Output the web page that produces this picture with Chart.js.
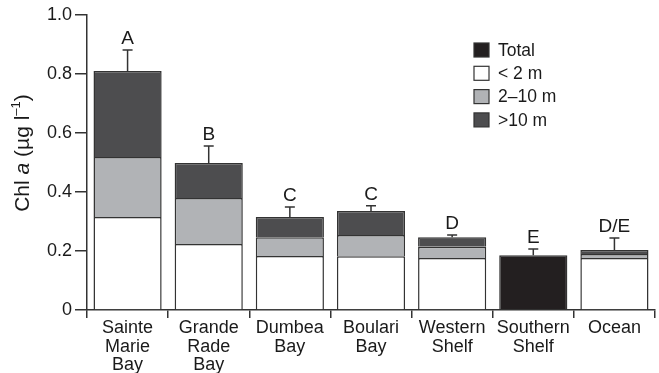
<html>
<head>
 <meta charset="utf-8" />
 <title>Chl a by site</title>
 <script src="https://cdn.jsdelivr.net/npm/chart.js@4.4.1/dist/chart.umd.min.js"></script>
 <style>
  body { margin: 0; background: white; }
  #wrap { width: 659px; height: 373px; }
 </style>
</head>
<body>
 <div id="wrap"><canvas id="myChart"></canvas></div>

 <script>
  // data
  var categories = [["Sainte", "Marie", "Bay"], ["Grande", "Rade", "Bay"], ["Dumbea", "Bay"], ["Boulari", "Bay"], ["Western", "Shelf"], ["Southern", "Shelf"], ["Ocean"]];
  var totalVals = [null, null, null, null, null, 0.186, null];
  var under2m = [0.315, 0.224, 0.183, 0.182, 0.176, null, 0.176];
  var from2to10m = [0.204, 0.156, 0.064, 0.072, 0.038, null, 0.014];
  var over10m = [0.291, 0.118, 0.068, 0.082, 0.033, null, 0.013];
  var errorTops = [0.881, 0.556, 0.349, 0.353, 0.254, 0.207, 0.244];
  var letters = ["A", "B", "C", "C", "D", "E", "D/E"];
  var yTicks = [0, 0.2, 0.4, 0.6, 0.8, 1.0];

  var ink = "#333333";
  var fontName = "'Liberation Sans', Arial, sans-serif";

  function barTop(i) {
   var s = 0;
   [totalVals, under2m, from2to10m, over10m].forEach(function (arr) {
    if (arr[i] != null) s += arr[i];
   });
   return s;
  }

  // error bars + letters above bars
  var errorPlugin = {
   id: "errorBars",
   afterDatasetsDraw: function (chart) {
    var ctx = chart.ctx;
    var x = chart.scales.x, y = chart.scales.y;
    ctx.save();
    ctx.strokeStyle = ink;
    ctx.lineWidth = 1.5;
    ctx.fillStyle = "#1a1a1a";
    ctx.font = "19px " + fontName;
    ctx.textAlign = "center";
    ctx.textBaseline = "alphabetic";
    for (var i = 0; i < categories.length; i++) {
     var px = x.getPixelForValue(i);
     var yb = y.getPixelForValue(barTop(i));
     var yt = y.getPixelForValue(errorTops[i]);
     ctx.beginPath();
     ctx.moveTo(px, yb);
     ctx.lineTo(px, yt);
     ctx.moveTo(px - 5, yt);
     ctx.lineTo(px + 5, yt);
     ctx.stroke();
     ctx.fillText(letters[i], px, yt - 6);
    }
    ctx.restore();
   }
  };

  // legend box in the upper right + y axis title with italic a
  var extrasPlugin = {
   id: "extras",
   afterDraw: function (chart) {
    var ctx = chart.ctx;
    ctx.save();
    var sets = chart.data.datasets;
    ctx.font = "17.5px " + fontName;
    ctx.textBaseline = "middle";
    ctx.textAlign = "left";
    for (var i = 0; i < sets.length; i++) {
     var cy = 50 + i * 23.3;
     ctx.fillStyle = sets[i].backgroundColor;
     ctx.fillRect(474, cy - 7, 15, 14);
     ctx.strokeStyle = ink;
     ctx.lineWidth = 1.2;
     ctx.strokeRect(474, cy - 7, 15, 14);
     ctx.fillStyle = "#1a1a1a";
     ctx.fillText(sets[i].label, 498, cy + 1);
    }

    // rotated title
    var parts = [
     { t: "Chl ", f: "21px " + fontName, dy: 0 },
     { t: "a", f: "italic 21px " + fontName, dy: 0 },
     { t: " (µg l", f: "21px " + fontName, dy: 0 },
     { t: "–1", f: "13px " + fontName, dy: -9 },
     { t: ")", f: "21px " + fontName, dy: 0 }
    ];
    var total = 0;
    parts.forEach(function (p) { ctx.font = p.f; total += ctx.measureText(p.t).width; });
    ctx.translate(29, 153);
    ctx.rotate(-Math.PI / 2);
    ctx.textBaseline = "alphabetic";
    ctx.fillStyle = "#1a1a1a";
    var xx = -total / 2;
    parts.forEach(function (p) {
     ctx.font = p.f;
     ctx.fillText(p.t, xx, p.dy);
     xx += ctx.measureText(p.t).width;
    });
    ctx.restore();
   }
  };

  function makeSet(label, data, color) {
   return {
    label: label,
    data: data,
    backgroundColor: color,
    borderColor: ink,
    borderWidth: 1.5,
    barPercentage: 0.84,
    categoryPercentage: 1.0
   };
  }

  var ctx = document.getElementById("myChart").getContext("2d");
  var chart = new Chart(ctx, {
   type: "bar",
   data: {
    labels: categories,
    datasets: [
     makeSet("Total", totalVals, "#231f20"),
     makeSet("< 2 m", under2m, "#ffffff"),
     makeSet("2–10 m", from2to10m, "#b1b3b6"),
     makeSet(">10 m", over10m, "#4d4d4f")
    ]
   },
   options: {
    responsive: true,
    maintainAspectRatio: false,
    animation: false,
    layout: { padding: { top: 15, right: 4, left: 0, bottom: 0 } },
    plugins: {
     legend: { display: false },
     tooltip: { enabled: false }
    },
    scales: {
     x: {
      stacked: true,
      grid: { offset: true, drawOnChartArea: false, color: ink, tickLength: 8, lineWidth: 1.5 },
      border: { display: true, color: ink, width: 1.5 },
      ticks: {
       color: "#1a1a1a",
       font: { family: fontName, size: 18, lineHeight: 1.03 },
       padding: 1,
       maxRotation: 0,
       autoSkip: false
      },
      afterFit: function (scale) { scale.height = 63; }
     },
     y: {
      stacked: true,
      min: 0,
      max: 1.0,
      afterBuildTicks: function (scale) {
       scale.ticks = yTicks.map(function (v) { return { value: v }; });
      },
      grid: { drawOnChartArea: false, color: ink, tickLength: 12, lineWidth: 1.5 },
      border: { display: true, color: ink, width: 1.5 },
      ticks: {
       color: "#1a1a1a",
       font: { family: fontName, size: 18 },
       padding: 3,
       callback: function (v) { return v === 0 ? "0" : v.toFixed(1); }
      },
      afterFit: function (scale) { scale.width = 87; }
     }
    }
   },
   plugins: [errorPlugin, extrasPlugin]
  });
 </script>
</body>
</html>
